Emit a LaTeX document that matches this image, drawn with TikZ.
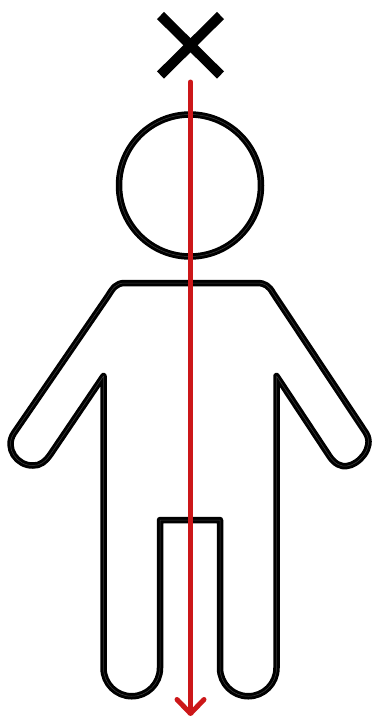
\documentclass[tikz,border=0pt]{standalone}
\usepackage{tikz}
\usetikzlibrary{arrows.meta}
\definecolor{axisred}{HTML}{CC1719}

\begin{document}
\begin{tikzpicture}[
    x=1pt, y=-1pt,
    outline/.style={draw=black, line width=3pt, double=black!75, double distance=0.5pt, line join=round},
    cross/.style={draw=black, line width=10pt},
    axis/.style={draw=axisred, line width=5pt, line cap=round, -{Straight Barb[length=14pt, width=27pt, round, line width=5pt]}}
]
\useasboundingbox (0,0) rectangle (372,716);
% head
\node[outline, circle, minimum size=142pt, inner sep=0pt] (head) at (190,185.5) {};
% body
\draw[outline] (125,283) -- (257,283)
    .. controls (265,283) and (269,286) .. (273,293) -- (366,433)
    .. controls (375,448) and (358,465) .. (347,466)
    .. controls (341,467) and (335,464) .. (330,457) -- (276.5,376)
    -- (276.5,668) arc[start angle=0, end angle=180, radius=28.25]
    -- (220,520) -- (160,520) -- (160,668)
    arc[start angle=0, end angle=180, radius=28.25]
    -- (103.5,376) -- (50,455)
    .. controls (46,461) and (40,466) .. (33,465.5)
    .. controls (17,466) and (4,448) .. (14,433) -- (108,296)
    .. controls (113,288) and (116,283) .. (125,283) -- cycle;
% cross
\coordinate (c1) at (160.5,15.5);
\coordinate (c2) at (220.5,75);
\coordinate (c3) at (220.5,15.5);
\coordinate (c4) at (160.5,75);
\draw[cross] (c1) -- (c2);
\draw[cross] (c3) -- (c4);
% axis
\coordinate (axistop) at (190.5,82);
\coordinate (axisend) at (190.5,716);
\draw[axis] (axistop) -- (axisend);
\end{tikzpicture}
\end{document}
